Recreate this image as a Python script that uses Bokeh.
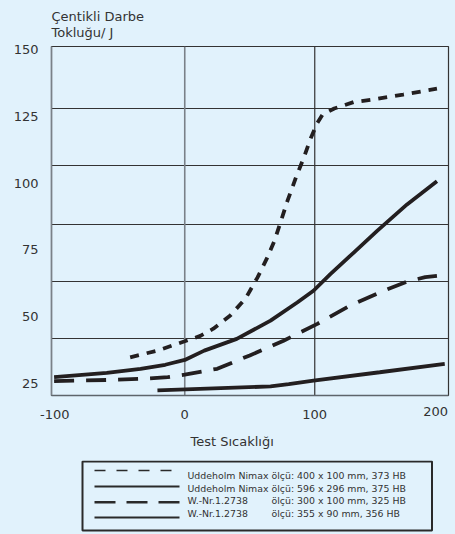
from bokeh.plotting import figure
from bokeh.models import Range1d, FixedTicker, Span, Title, LinearAxis
from bokeh.layouts import column
from bokeh.core.properties import value
from bokeh.embed import file_html
from bokeh.resources import INLINE

# ---------------- data ----------------
y_title_lines = ["Çentikli Darbe", "Tokluğu/ J"]
x_title = "Test Sıcaklığı"

x_ticks_main = [-100, 0, 100]
x_ticks_last = [200]
y_ticks = [25, 50, 75, 100, 125, 150]

# Uddeholm Nimax 400 x 100 mm (short dashes)
nimax400_t = [-42, -21, 0, 12, 22, 35, 47, 56, 63, 69, 74, 79, 85, 91.5, 97, 102, 106, 115, 130, 148, 168, 194]
nimax400_v = [34.8, 37.3, 40.8, 42.8, 45.5, 50.4, 57, 64.7, 71.6, 78.4, 85.8, 93.3, 101.4, 109.4, 116.9, 122.5, 125.6, 127.9, 130.3, 131.5, 133.1, 135.3]

# Uddeholm Nimax 596 x 296 mm (solid)
nimax596_t = [-100.5, -60, -34, -15, 0, 15, 40, 66, 86.5, 99, 112, 130, 148, 171, 194]
nimax596_v = [27.4, 29.0, 30.5, 32.0, 33.8, 37.3, 41.7, 48.5, 55.3, 59.7, 65.9, 74.0, 82.1, 92.0, 100.7]

# W.-Nr.1.2738 300 x 100 mm (long dashes)
w300_t = [-100.5, -60, -30, -13, 0, 25, 50, 76, 102, 127, 153, 171, 185, 194]
w300_v = [25.9, 26.3, 26.8, 27.4, 28.3, 30.5, 35.5, 41.0, 47.3, 54.1, 59.7, 63.1, 64.8, 65.3]

# W.-Nr.1.2738 355 x 90 mm (solid, low)
w355_t = [-21, 66, 80, 99, 150, 200]
w355_v = [22.4, 23.9, 24.8, 26.1, 29.2, 32.3]

legend_names = ["Uddeholm Nimax", "Uddeholm Nimax", "W.-Nr.1.2738", "W.-Nr.1.2738"]
legend_specs = ["ölçü: 400 x 100 mm, 373 HB", "ölçü: 596 x 296 mm, 375 HB",
                "ölçü: 300 x 100 mm, 325 HB", "ölçü: 355 x 90 mm, 356 HB"]

# ---------------- styles ----------------
BG = "#E1F2FC"
INK = "#231F20"
GRID = "#333333"
GRAY = "#7A8188"
TXT = "#333333"
FONT = "DejaVu Sans"

W = 455
MAIN_H = 460
FL, FR = 51, 448          # frame left / right (px)
FT, FH = 45, 350          # frame top / height (px)
PX_PER_UNIT = 1.3
x0 = -102.5
x1 = x0 + (FR - FL) / PX_PER_UNIT
y0, y1 = 20.5, 151.1
grid_y = [41.7, 63.2, 84.5, 106.6, 127.9]
last_label_shift = 9 / PX_PER_UNIT   # last tick label sits inward, as in the original

p = figure(width=W, height=MAIN_H, x_range=Range1d(x0, x1), y_range=Range1d(y0, y1),
           output_backend="svg", toolbar_location=None,
           min_border_left=FL, min_border_right=W - FR, min_border_top=FT,
           min_border_bottom=MAIN_H - FT - FH)
p.background_fill_color = BG
p.border_fill_color = BG
p.outline_line_color = GRID
p.outline_line_width = 1.2
p.extra_x_ranges = {"lab": Range1d(x0 + last_label_shift, x1 + last_label_shift)}

p.xgrid.visible = False
p.ygrid.ticker = FixedTicker(ticks=grid_y)
p.ygrid.grid_line_color = GRID
p.ygrid.grid_line_width = 1.2

def style_x_axis(ax, standoff):
    ax.major_tick_line_color = None
    ax.minor_tick_line_color = None
    ax.major_tick_out = 0
    ax.major_tick_in = 0
    ax.major_label_standoff = standoff
    ax.major_label_text_font = FONT
    ax.major_label_text_font_size = "13px"
    ax.major_label_text_color = TXT

xa = p.xaxis[0]
xa.ticker = FixedTicker(ticks=x_ticks_main)
xa.axis_line_color = "#5E656B"
xa.axis_line_width = 1.5
style_x_axis(xa, 14)
xa.major_label_overrides = {t: str(t) for t in x_ticks_main}

xb = LinearAxis(x_range_name="lab", ticker=FixedTicker(ticks=x_ticks_last))
xb.axis_line_color = None
style_x_axis(xb, -15)
xb.major_label_overrides = {t: str(t) for t in x_ticks_last}
p.add_layout(xb, "below")

p.yaxis.ticker = FixedTicker(ticks=y_ticks)
p.yaxis.axis_line_color = GRAY
p.yaxis.axis_line_width = 1.5
p.yaxis.major_tick_line_color = None
p.yaxis.minor_tick_line_color = None
p.yaxis.major_tick_out = 0
p.yaxis.major_label_standoff = 13
p.yaxis.major_label_text_font = FONT
p.yaxis.major_label_text_font_size = "13px"
p.yaxis.major_label_text_color = TXT

for xv, col, w in [(0, GRAY, 1.6), (100, GRID, 1.2)]:
    p.add_layout(Span(location=xv, dimension="height", line_color=col, line_width=w, level="underlay"))

lw = 3.8
p.line(nimax400_t, nimax400_v, line_color=INK, line_width=lw, line_dash="9 8")
p.line(nimax596_t, nimax596_v, line_color=INK, line_width=lw)
p.line(w300_t, w300_v, line_color=INK, line_width=lw, line_dash="20 12")
p.line(w355_t, w355_v, line_color=INK, line_width=lw)

def mk_title(txt, **kw):
    return Title(text=txt, align="left", text_font=FONT, text_font_size="13px",
                 text_font_style="normal", text_color=TXT, **kw)

p.add_layout(mk_title("\n".join(y_title_lines), standoff=12, text_line_height=1.12), "above")
p.add_layout(mk_title(x_title, offset=139, standoff=21), "below")

# ---------------- legend panel ----------------
LT, LB = MAIN_H, 534
lg = figure(width=W, height=LB - LT, x_range=Range1d(FL, FR), y_range=Range1d(LB, LT),
            output_backend="svg", toolbar_location=None,
            min_border_left=FL, min_border_right=W - FR, min_border_top=0, min_border_bottom=0)
lg.background_fill_color = BG
lg.border_fill_color = BG
lg.outline_line_color = None
lg.axis.visible = False
lg.grid.visible = False

box_l, box_r, box_t, box_b = 82, 431.5, 461, 530
lg.quad(left=[box_l], right=[box_r], top=[box_t], bottom=[box_b],
        fill_color=BG, line_color="#2A2A2A", line_width=2)

sample_l, sample_r = 94, 179
sample_rows = [470, 486, 501.7, 517]
sample_styles = [dict(line_width=1.3, line_dash="11 11", line_color="#2A2A2A"),
                 dict(line_width=2.0, line_color="#2A2A2A"),
                 dict(line_width=2.4, line_dash="21 11", line_color="#2A2A2A"),
                 dict(line_width=2.0, line_color="#2A2A2A")]
for sy, st in zip(sample_rows, sample_styles):
    lg.line([sample_l, sample_r], [sy, sy], **st)

text_y0, step = 475, 12.7
rows_y = [text_y0 + i * step for i in range(len(legend_names))]
lg.text(x=[187] * 4, y=rows_y, text=legend_names, text_font=value(FONT),
        text_font_size="9.4px", text_color=TXT, text_baseline="middle", text_align="left")
lg.text(x=[271] * 4, y=rows_y, text=legend_specs, text_font=value(FONT),
        text_font_size="9.4px", text_color=TXT, text_baseline="middle", text_align="left")

layout = column(p, lg, spacing=0)
html = file_html(layout, INLINE)
html = html.replace("<head>", "<head><style>html,body{background:%s;}</style>" % BG, 1)
open("out.html", "w").write(html)
